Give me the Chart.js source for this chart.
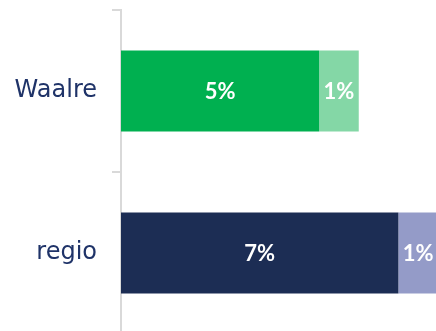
<!DOCTYPE html>
<html>
<head>
<meta charset="utf-8">
<script src="https://cdn.jsdelivr.net/npm/chart.js@4/dist/chart.umd.min.js"></script>
<style>
  html, body { margin: 0; padding: 0; background: #fff; overflow: hidden; }
  canvas { display: block; }
</style>
</head>
<body>
<canvas id="chart" width="440" height="334"></canvas>
<script>
// data
const categories = ['Waalre', 'regio'];
const mainValues = [5, 7];
const extraValues = [1, 1];
const mainColors = ['#00b050', '#1c2d54'];
const extraColors = ['#84d7a6', '#949bc8'];

// draws the white % labels in the middle of each bar piece
const barLabels = {
  id: 'barLabels',
  afterDatasetsDraw(chart) {
    const ctx = chart.ctx;
    ctx.save();
    ctx.fillStyle = '#ffffff';
    ctx.font = 'bold 22px Lato';
    ctx.textAlign = 'center';
    ctx.textBaseline = 'middle';
    chart.data.datasets.forEach((ds, i) => {
      chart.getDatasetMeta(i).data.forEach((bar, j) => {
        const cx = (bar.x + bar.base) / 2;
        ctx.fillText(ds.data[j] + '%', cx, bar.y + 1);
      });
    });
    ctx.restore();
  }
};

new Chart(document.getElementById('chart'), {
  type: 'bar',
  data: {
    labels: categories,
    datasets: [
      { data: mainValues, backgroundColor: mainColors, barPercentage: 0.5, categoryPercentage: 1 },
      { data: extraValues, backgroundColor: extraColors, barPercentage: 0.5, categoryPercentage: 1 }
    ]
  },
  options: {
    indexAxis: 'y',
    responsive: false,
    animation: false,
    devicePixelRatio: 1,
    layout: { padding: { top: 10, right: 2, bottom: 0, left: 0 } },
    plugins: { legend: { display: false }, tooltip: { enabled: false } },
    scales: {
      x: { stacked: true, display: false, min: 0, max: 8 },
      y: {
        stacked: true,
        afterFit(scale) {
          scale.width = 121;
          scale.paddingTop = 0;
          scale.paddingBottom = 0;
        },
        border: { color: '#d9d9d9', width: 2 },
        grid: { offset: true, drawOnChartArea: false, drawTicks: true, tickLength: 9, color: '#d9d9d9', lineWidth: 2 },
        ticks: { padding: 15, color: '#1f3368', font: { family: 'DejaVu Sans', size: 24 } }
      }
    }
  },
  plugins: [barLabels]
});
</script>
</body>
</html>
